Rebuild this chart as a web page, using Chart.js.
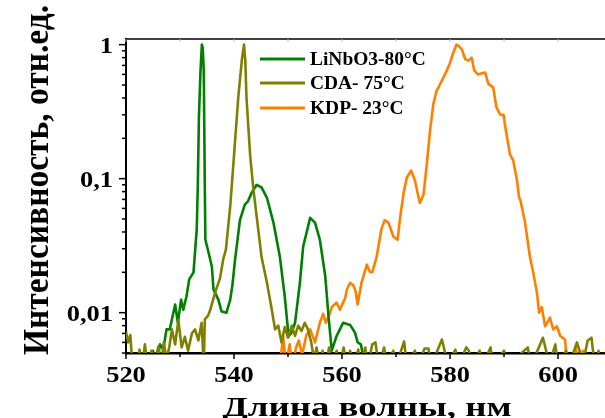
<!DOCTYPE html>
<html>
<head>
<meta charset="utf-8">
<script src="https://cdn.jsdelivr.net/npm/chart.js@4.4.1/dist/chart.umd.min.js"></script>
<style>
html,body{margin:0;padding:0;background:#fff;overflow:hidden}
#wrap{width:605px;height:418px;position:relative}
</style>
</head>
<body>
<div id="wrap"><canvas id="c" width="605" height="418"></canvas></div>
<script>
// ---------------- DATA ----------------
const seriesNames = ['LiNbO3-80°C', 'CDA- 75°C', 'KDP- 23°C'];

const liWave = [524.5,525.0,525.6,526.3,526.9,527.5,528.1,528.5,529.1,529.6,530.2,530.6,531.2,531.7,532.5,533.1,533.3,533.5,533.8,534.05,534.2,534.4,534.6,534.7,535.3,535.9,536.2,537.1,537.7,538.6,539.3,539.7,540.2,541.1,542.0,542.6,543.3,544.2,545.1,546.1,547.3,548.5,549.4,550.1,550.6,551.3,552.2,552.8,554.1,555.0,555.9,556.9,557.5,558.1,559.0,559.6,560.2,561.5,562.4,562.9,563.5,564.0,564.5];
const liVal  = [0.004,0.0052,0.004,0.0058,0.0053,0.0075,0.0075,0.0089,0.0115,0.0084,0.0125,0.0105,0.0132,0.0177,0.020,0.042,0.09,0.285,0.64,1.0,0.95,0.64,0.08,0.035,0.028,0.022,0.0149,0.0125,0.0102,0.0100,0.0125,0.016,0.025,0.049,0.064,0.068,0.079,0.090,0.086,0.072,0.047,0.026,0.0132,0.0067,0.007,0.0084,0.0167,0.031,0.051,0.047,0.035,0.0187,0.0094,0.0052,0.0067,0.0075,0.0084,0.0081,0.0071,0.006,0.0058,0.0045,0.004];

const cdaWave = [520.0,520.4,520.8,521.2,522.0,522.5,523.0,523.5,524.0,524.7,525.2,526.0,526.5,527.0,527.5,528.0,528.5,529.1,529.7,530.3,530.9,531.5,532.2,532.8,533.4,534.0,534.4,534.6,535.2,535.6,536.5,537.4,538.0,538.5,539.3,539.9,540.8,541.5,541.85,542.1,542.3,543.0,543.6,544.2,545.1,546.1,547.0,547.6,548.2,548.8,549.4,550.0,550.7,551.3,551.9,552.5,553.1,553.7,554.3,554.8,555.3,555.8,556.4,557.0,557.6,558.2,559.0,559.6,560.3,560.9,561.5,562.2,563.0,563.5,564.3,564.8,565.6,566.2,566.8,567.8,568.3,569.5,570.0,571.5,572.0,573.5,574.0,575.3,576.0,576.5,578.5,579.0,579.5,581.0,581.5,583.0,583.5,584.0,585.5,586.0,587.5,588.0,590.0,590.5,594.4,595.0,597.2,597.8,598.3,599.5,600.0,601.5,602.0,603.5,604.0,604.5,605.5,606.2,606.8,607.5,608.0,609.0];
const cdaVal  = [0.0072,0.006,0.0068,0.004,0.004,0.0053,0.004,0.0058,0.004,0.0052,0.004,0.0056,0.004,0.006,0.0045,0.0055,0.0075,0.0058,0.0088,0.0055,0.0066,0.0052,0.007,0.0075,0.0062,0.0084,0.004,0.0089,0.0095,0.0105,0.0141,0.018,0.025,0.0295,0.062,0.131,0.41,0.8,1.0,0.75,0.41,0.147,0.083,0.052,0.026,0.0167,0.0105,0.0075,0.008,0.006,0.0078,0.0065,0.008,0.0067,0.008,0.0073,0.0084,0.0075,0.006,0.0045,0.0055,0.004,0.0052,0.004,0.0055,0.004,0.0052,0.004,0.0055,0.004,0.0052,0.004,0.0053,0.004,0.0055,0.004,0.0058,0.006,0.004,0.0055,0.004,0.0052,0.004,0.0061,0.004,0.0052,0.004,0.0054,0.0054,0.004,0.0063,0.0052,0.004,0.0053,0.004,0.0055,0.0052,0.004,0.0052,0.004,0.0055,0.004,0.0052,0.004,0.0055,0.004,0.0065,0.0052,0.004,0.0058,0.004,0.0052,0.004,0.006,0.0052,0.004,0.0062,0.0065,0.004,0.0052,0.004,0.0052];

const kdpWave = [548.5,549.1,549.6,550.3,550.8,551.5,552.0,552.6,553.4,554.1,555.0,555.9,556.5,557.0,557.8,558.1,559.0,559.6,560.6,560.9,561.5,562.1,562.5,562.9,563.6,564.6,565.2,565.6,566.4,567.3,567.9,568.6,569.5,570.3,570.7,571.4,572.0,572.8,573.5,574.4,575.1,575.7,576.3,576.9,577.5,578.5,579.4,580.0,580.6,581.2,581.6,582.2,582.8,583.4,584.0,584.5,585.2,585.8,586.5,587.1,588.0,588.6,589.3,589.9,590.5,591.1,591.7,592.4,592.8,593.0,593.9,594.8,595.4,596.1,596.5,597.0,597.6,598.5,599.1,599.8,600.4,601.3,601.7,602.5,603.3,603.8,604.6,605.2];
const kdpVal  = [0.004,0.0067,0.004,0.0058,0.004,0.0055,0.0062,0.0048,0.0068,0.0075,0.006,0.0084,0.0098,0.0084,0.010,0.011,0.0119,0.0105,0.0129,0.0149,0.0167,0.016,0.0145,0.0115,0.0167,0.0228,0.020,0.020,0.026,0.042,0.049,0.047,0.037,0.035,0.049,0.078,0.102,0.115,0.097,0.066,0.076,0.128,0.228,0.359,0.45,0.54,0.64,0.73,0.87,1.0,0.98,0.92,0.78,0.76,0.80,0.64,0.60,0.61,0.62,0.51,0.48,0.34,0.30,0.30,0.21,0.152,0.137,0.097,0.072,0.07,0.047,0.026,0.020,0.0141,0.010,0.011,0.0079,0.0092,0.0075,0.0079,0.0067,0.0063,0.004,0.004,0.0055,0.004,0.0052,0.004];

const xTickValues = [520, 540, 560, 580, 600];
const yTickValues = [0.01, 0.1, 1];
const yTickLabels = ['0,01', '0,1', '1'];
const xTitle = 'Длина волны, нм';
const yTitle = 'Интенсивность, отн.ед.';

// ---------------- CHART ----------------
const colors = ['#008000', '#808000', '#ff8000'];
const FONT = '"Liberation Serif", "Times New Roman", serif';
const STRETCH = 1.15;

function zip(w, v) { return w.map((x, i) => ({ x: x, y: v[i] })); }

const datasets = [
  { label: seriesNames[0], data: zip(liWave, liVal), borderColor: colors[0], order: 1 },
  { label: seriesNames[1], data: zip(cdaWave, cdaVal), borderColor: colors[1], order: 0 },
  { label: seriesNames[2], data: zip(kdpWave, kdpVal), borderColor: colors[2], order: 2 }
].map(d => Object.assign(d, { borderWidth: 2.6, pointRadius: 0, tension: 0, fill: false, borderJoinStyle: 'round' }));

function line(ctx, x1, y1, x2, y2) { ctx.beginPath(); ctx.moveTo(x1, y1); ctx.lineTo(x2, y2); ctx.stroke(); }

function stretchedText(ctx, text, x, y, align, sx) {
  const w = ctx.measureText(text).width * sx;
  let left = x;
  if (align === 'center') left = x - w / 2;
  else if (align === 'right') left = x - w;
  ctx.save();
  ctx.translate(left, y);
  ctx.scale(sx, 1);
  ctx.textAlign = 'left';
  ctx.fillText(text, 0, 0);
  ctx.restore();
}

function yLabel(v) {
  const i = yTickValues.findIndex(t => Math.abs(t - v) < t * 1e-6);
  return i >= 0 ? yTickLabels[i] : '';
}

const decor = {
  id: 'decor',
  afterDraw(chart) {
    const ctx = chart.ctx, xs = chart.scales.x, ys = chart.scales.y, a = chart.chartArea;
    ctx.save();
    ctx.strokeStyle = '#000';
    // top border
    ctx.lineWidth = 1.5;
    line(ctx, a.left, a.top, a.right, a.top);
    // x ticks (outward)
    for (let v = 520; v <= xs.max; v += 10) {
      const px = xs.getPixelForValue(v);
      const major = v % 20 === 0;
      ctx.lineWidth = 1.5;
      line(ctx, px, a.bottom, px, a.bottom + (major ? 6 : 4));
      ctx.save(); ctx.strokeStyle = '#bbb'; ctx.lineWidth = 1;
      line(ctx, px, a.top, px, a.top + 3);
      ctx.restore();
    }
    // y ticks (outward)
    for (let d = -3; d <= 0; d++) {
      for (let m = 1; m <= 9; m++) {
        const v = m * Math.pow(10, d);
        if (v < ys.min * 0.999 || v > ys.max) continue;
        const py = ys.getPixelForValue(v);
        ctx.lineWidth = 1.5;
        line(ctx, a.left, py, a.left - (m === 1 ? 7 : 4), py);
      }
    }
    // tick labels (from the scales' own ticks)
    ctx.fillStyle = '#000';
    ctx.font = 'bold 23px ' + FONT;
    ctx.textBaseline = 'alphabetic';
    xs.ticks.forEach(t => {
      stretchedText(ctx, String(t.value), xs.getPixelForValue(t.value), 382, 'center', STRETCH);
    });
    ys.ticks.forEach(t => {
      const py = ys.getPixelForValue(t.value);
      stretchedText(ctx, yLabel(t.value), 113, py + 8, 'right', STRETCH);
    });
    // legend
    const rows = [59, 83, 108];
    ctx.font = 'bold 18px ' + FONT;
    ctx.textBaseline = 'middle';
    chart.data.datasets.forEach((ds, i) => {
      ctx.strokeStyle = ds.borderColor;
      ctx.lineWidth = 3;
      line(ctx, 260, rows[i], 305, rows[i]);
      stretchedText(ctx, ds.label, 310, rows[i] + 1, 'left', 1.08);
    });
    // x axis title
    ctx.font = 'bold 27px ' + FONT;
    let w = ctx.measureText(xTitle).width;
    ctx.save();
    ctx.translate(367, 416);
    ctx.scale(289 / w, 1);
    ctx.textAlign = 'center';
    ctx.textBaseline = 'alphabetic';
    ctx.fillText(xTitle, 0, 0);
    ctx.restore();
    // y axis title
    ctx.font = 'bold 30px ' + FONT;
    w = ctx.measureText(yTitle).width;
    ctx.save();
    ctx.translate(48, 180);
    ctx.rotate(-Math.PI / 2);
    ctx.scale(350 / w, 1.17);
    ctx.textAlign = 'center';
    ctx.textBaseline = 'alphabetic';
    ctx.fillText(yTitle, 0, 0);
    ctx.restore();
    ctx.restore();
  }
};

new Chart(document.getElementById('c'), {
  type: 'line',
  data: { datasets: datasets },
  options: {
    responsive: false,
    animation: false,
    devicePixelRatio: 1,
    layout: { padding: { top: 39, right: 0, left: 0, bottom: 0 } },
    plugins: { legend: { display: false }, tooltip: { enabled: false } },
    scales: {
      x: {
        type: 'linear',
        min: 520,
        max: 608.7,
        afterFit(s) { s.height = 65; },
        afterBuildTicks(s) { s.ticks = xTickValues.map(v => ({ value: v })); },
        grid: { display: false, drawTicks: false },
        border: { display: true, color: '#000', width: 2.5 },
        ticks: { display: false, autoSkip: false }
      },
      y: {
        type: 'logarithmic',
        min: 0.005,
        max: 1.102,
        afterFit(s) { s.width = 126; },
        afterBuildTicks(s) { s.ticks = yTickValues.map(v => ({ value: v })); },
        grid: { display: false, drawTicks: false },
        border: { display: true, color: '#000', width: 2 },
        ticks: { display: false, autoSkip: false }
      }
    }
  },
  plugins: [decor]
});
</script>
</body>
</html>
